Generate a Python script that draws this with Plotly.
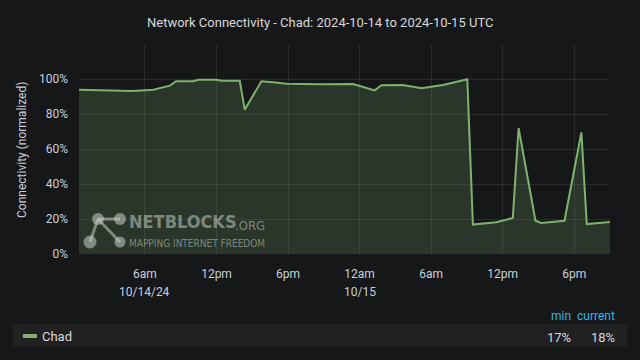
import plotly.graph_objects as go

# ---- data ----
times = [
    "2024-10-14 00:28", "2024-10-14 04:28", "2024-10-14 04:54", "2024-10-14 06:42",
    "2024-10-14 07:16", "2024-10-14 08:06", "2024-10-14 08:36", "2024-10-14 10:03",
    "2024-10-14 10:28", "2024-10-14 12:00", "2024-10-14 12:25", "2024-10-14 13:57",
    "2024-10-14 14:22", "2024-10-14 15:46", "2024-10-14 16:45", "2024-10-14 17:52",
    "2024-10-14 20:40", "2024-10-14 23:27", "2024-10-15 01:16", "2024-10-15 01:50",
    "2024-10-15 03:38", "2024-10-15 05:11", "2024-10-15 07:00", "2024-10-15 09:02",
    "2024-10-15 09:30", "2024-10-15 11:28", "2024-10-15 12:51", "2024-10-15 13:20",
    "2024-10-15 14:45", "2024-10-15 15:14", "2024-10-15 17:11", "2024-10-15 18:36",
    "2024-10-15 19:03", "2024-10-15 21:00",
]
chad = [
    93.9, 93.5, 93.1, 93.9, 94.7, 96.2, 98.7, 98.7, 99.6, 99.6, 99.0, 99.0,
    82.5, 98.7, 98.1, 97.3, 97.0, 97.1, 93.5, 96.4, 96.6, 94.7, 96.6, 99.8,
    16.8, 18.1, 20.6, 72.0, 19.0, 17.7, 19.0, 69.5, 17.1, 18.3,
]
series_name = "Chad"
title_text = "Network Connectivity - Chad: 2024-10-14 to 2024-10-15 UTC"

x_tickvals = ["2024-10-14 06:00", "2024-10-14 12:00", "2024-10-14 18:00", "2024-10-15 00:00",
              "2024-10-15 06:00", "2024-10-15 12:00", "2024-10-15 18:00"]
x_ticktext = ["6am", "12pm", "6pm", "12am", "6am", "12pm", "6pm"]
date_tickvals = ["2024-10-14 06:00", "2024-10-15 00:00"]
date_ticktext = ["10/14/24", "10/15"]
y_tickvals = [0, 20, 40, 60, 80, 100, 120]
y_ticktext = ["0%", "20%", "40%", "60%", "80%", "100%", ""]
x_range = ["2024-10-14 00:28", "2024-10-15 21:00"]

# ---- layout geometry (pixels) ----
W, H = 640, 360
L, R, T, B = 79, 30, 44, 106
PW, PH = W - L - R, H - T - B

def px(xp):
    return (xp - L) / PW

def py(yp):
    return (H - B - yp) / PH

BG = "#161719"
GRID = "rgba(255,255,255,0.09)"
TXT = "#c7d0d9"
GREEN = "#7eb26d"
FONT = "Roboto"
NARROW = "Liberation Sans Narrow, DejaVu Sans Condensed"

fig = go.Figure()
fig.add_trace(go.Scatter(
    x=times, y=chad, mode="lines", name=series_name,
    line=dict(color=GREEN, width=2),
    fill="tozeroy", fillcolor="rgba(126,178,109,0.2)",
    hoverinfo="skip",
))

shapes = []
annotations = []

# title
annotations.append(dict(text=title_text, xref="paper", yref="paper",
                        x=px(320), y=py(23), xanchor="center", yanchor="middle",
                        showarrow=False, font=dict(family=FONT, size=13, color="#d8d9da")))
# y axis title
annotations.append(dict(text="Connectivity (normalized)", xref="paper", yref="paper",
                        x=px(22), y=py(150), xanchor="center", yanchor="middle",
                        textangle=-90, showarrow=False,
                        font=dict(family=FONT, size=12, color=TXT)))
# date row
for v, t in zip(date_tickvals, date_ticktext):
    annotations.append(dict(text=t, xref="x", yref="paper", x=v, y=py(292),
                            xanchor="center", yanchor="middle", showarrow=False,
                            font=dict(family=FONT, size=12, color=TXT)))

# watermark
WM = "rgba(200,205,200,0.55)"
for (x0, y0, x1, y1) in [(98, 219, 120, 219), (98, 219, 90, 242), (98, 219, 120, 242)]:
    shapes.append(dict(type="line", xref="paper", yref="paper",
                       x0=px(x0), y0=py(y0), x1=px(x1), y1=py(y1),
                       line=dict(color=WM, width=3)))
for (cx, cy, r) in [(98, 219, 6), (120, 219, 6), (90, 242, 6.5), (120, 242, 5.5)]:
    shapes.append(dict(type="circle", xref="paper", yref="paper",
                       x0=px(cx - r), x1=px(cx + r), y0=py(cy + r), y1=py(cy - r),
                       fillcolor=WM, line=dict(width=0)))
annotations.append(dict(text="<b>NETBLOCKS</b>", xref="paper", yref="paper",
                        x=px(127), y=py(234), xanchor="left", yanchor="bottom",
                        showarrow=False, font=dict(family=NARROW, size=18, color=WM)))
annotations.append(dict(text=".ORG", xref="paper", yref="paper",
                        x=px(233), y=py(235), xanchor="left", yanchor="bottom",
                        showarrow=False, font=dict(family=NARROW, size=13, color=WM)))
annotations.append(dict(text="MAPPING INTERNET FREEDOM", xref="paper", yref="paper",
                        x=px(127), y=py(243.5), xanchor="left", yanchor="middle",
                        showarrow=False, font=dict(family=NARROW, size=10, color=WM)))

# legend table
shapes.append(dict(type="rect", xref="paper", yref="paper",
                   x0=px(13), x1=px(627), y0=py(347), y1=py(324),
                   fillcolor="#212124", line=dict(width=0), layer="below"))
shapes.append(dict(type="rect", xref="paper", yref="paper",
                   x0=px(23), x1=px(37), y0=py(338), y1=py(334),
                   fillcolor=GREEN, line=dict(width=0)))
annotations.append(dict(text=series_name, xref="paper", yref="paper",
                        x=px(40), y=py(336), xanchor="left", yanchor="middle",
                        showarrow=False, font=dict(family=FONT, size=13, color="#d8d9da")))
min_val = f"{round(min(chad))}%"
cur_val = f"{round(chad[-1])}%"
for label, xr in [("min", 573), ("current", 617)]:
    annotations.append(dict(text=label, xref="paper", yref="paper",
                            x=px(xr), y=py(316), xanchor="right", yanchor="middle",
                            showarrow=False, font=dict(family=FONT, size=12, color="#33b5e5")))
for val, xr in [(min_val, 573), (cur_val, 617)]:
    annotations.append(dict(text=val, xref="paper", yref="paper",
                            x=px(xr), y=py(337), xanchor="right", yanchor="middle",
                            showarrow=False, font=dict(family=FONT, size=13, color="#d8d9da")))

fig.update_layout(
    width=W, height=H,
    margin=dict(l=L, r=R, t=T, b=B),
    paper_bgcolor=BG, plot_bgcolor=BG,
    showlegend=False,
    font=dict(family=FONT, size=12, color=TXT),
    shapes=shapes, annotations=annotations,
    xaxis=dict(type="date", range=x_range, tickvals=x_tickvals, ticktext=x_ticktext,
               showgrid=True, gridcolor=GRID, gridwidth=1, zeroline=False,
               showline=False, ticks="", ticklabelstandoff=11,
               tickfont=dict(family=FONT, size=12, color=TXT)),
    yaxis=dict(range=[0, 120], tickvals=y_tickvals, ticktext=y_ticktext,
               showgrid=True, gridcolor=GRID, gridwidth=1, zeroline=False,
               showline=False, ticks="", ticklabelstandoff=10,
               tickfont=dict(family=FONT, size=12, color=TXT)),
)

fig.write_html("out.html",
               config={"displayModeBar": False, "staticPlot": True},
               post_script="document.body.style.margin='0';document.body.style.background='#161719';")
